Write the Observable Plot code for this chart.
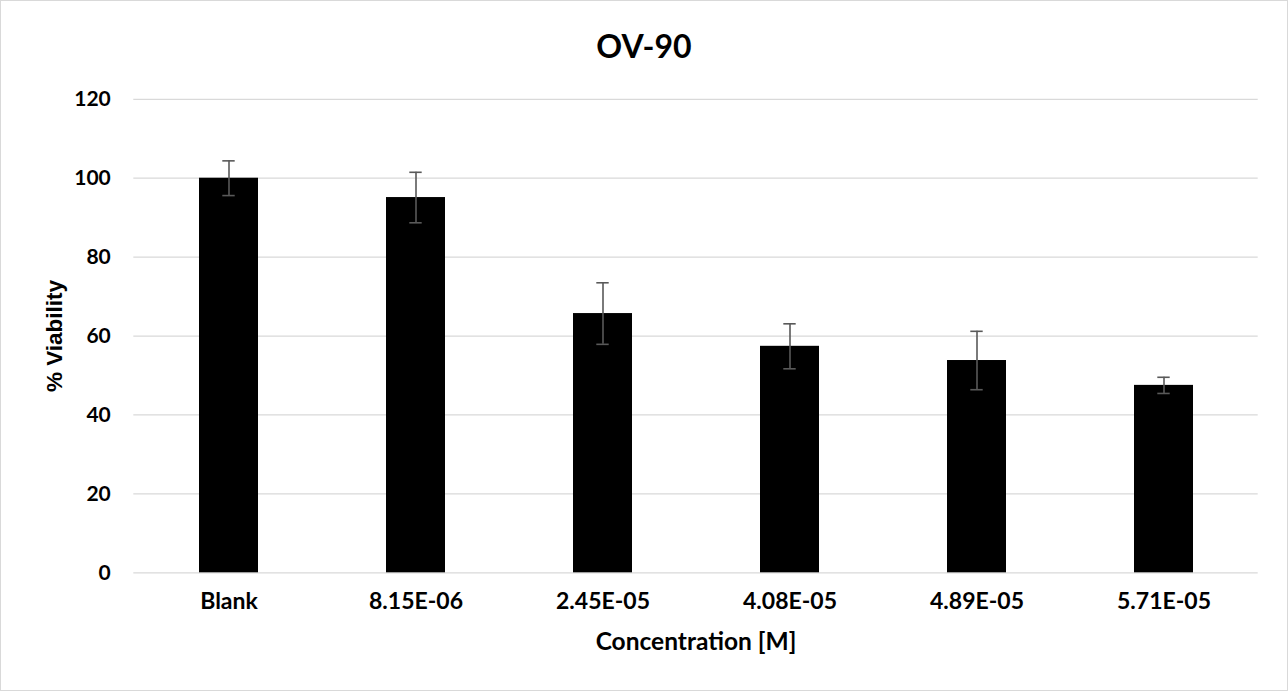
<!DOCTYPE html>
<html>
<head>
<meta charset="utf-8">
<script src="https://cdn.jsdelivr.net/npm/d3@7"></script>
<script src="https://cdn.jsdelivr.net/npm/@observablehq/plot@0.6"></script>
<style>
  html, body { margin: 0; padding: 0; background: #fff; }
  #frame {
    width: 1288px; height: 691px; box-sizing: border-box;
    border: 1px solid #d9d9d9; background: #fff; overflow: hidden;
  }
  #title {
    height: 54px; padding-top: 18px; line-height: 54px; text-align: center;
    font-family: Lato, "Open Sans", sans-serif; font-weight: bold; font-size: 32px; color: #000;
  }
  #chart svg { display: block; }
</style>
</head>
<body>
<div id="frame">
  <div id="title">OV-90</div>
  <div id="chart"></div>
</div>
<script>
// Cell viability of OV-90 at each concentration (mean ± error)
const categories = ["Blank", "8.15E-06", "2.45E-05", "4.08E-05", "4.89E-05", "5.71E-05"];
const viability = [100, 95.1, 65.7, 57.4, 53.8, 47.5];
const errors = [4.4, 6.4, 7.8, 5.7, 7.4, 2.05];
const yTicks = [0, 20, 40, 60, 80, 100, 120];

const rows = categories.map((c, i) => ({
  conc: c,
  v: viability[i],
  lo: viability[i] - errors[i],
  hi: viability[i] + errors[i]
}));

const font = "Lato, 'Open Sans', sans-serif";

const chart = Plot.plot({
  width: 1286,
  height: 617,
  marginTop: 25.8,
  marginBottom: 117.7,
  marginLeft: 132.3,
  marginRight: 29.3,
  style: { fontFamily: font, background: "#fff", color: "#000", overflow: "visible" },
  x: { domain: categories, paddingInner: 0.687, paddingOuter: 0.3435, label: null },
  y: { domain: [0, 120], label: null },
  marks: [
    Plot.gridY(yTicks, { stroke: "#d9d9d9", strokeOpacity: 1, strokeWidth: 1.3 }),
    Plot.barY(rows, { x: "conc", y: "v", fill: "#000" }),
    Plot.ruleX(rows, { x: "conc", y1: "lo", y2: "hi", stroke: "#595959", strokeWidth: 1.6 }),
    Plot.tickY(rows, { x: "conc", y: "lo", stroke: "#595959", strokeWidth: 1.6, insetLeft: 23.3, insetRight: 23.3 }),
    Plot.tickY(rows, { x: "conc", y: "hi", stroke: "#595959", strokeWidth: 1.6, insetLeft: 23.3, insetRight: 23.3 }),
    Plot.axisY(yTicks, { tickSize: 0, tickPadding: 23, fontSize: 21, fontWeight: "bold", label: null }),
    Plot.axisX({ tickSize: 0, tickPadding: 20, fontSize: 23, fontWeight: "bold", label: null }),
    Plot.text(["Concentration [M]"], { text: d => d, frameAnchor: "bottom", dy: 77, fontSize: 24.5, fontWeight: "bold" }),
    Plot.text(["% Viability"], { text: d => d, frameAnchor: "left", textAnchor: "middle", rotate: -90, dx: -79, fontSize: 22.5, fontWeight: "bold", fontFamily: "'Liberation Sans', Arial, sans-serif" })
  ]
});

document.getElementById("chart").appendChild(chart);
</script>
</body>
</html>
